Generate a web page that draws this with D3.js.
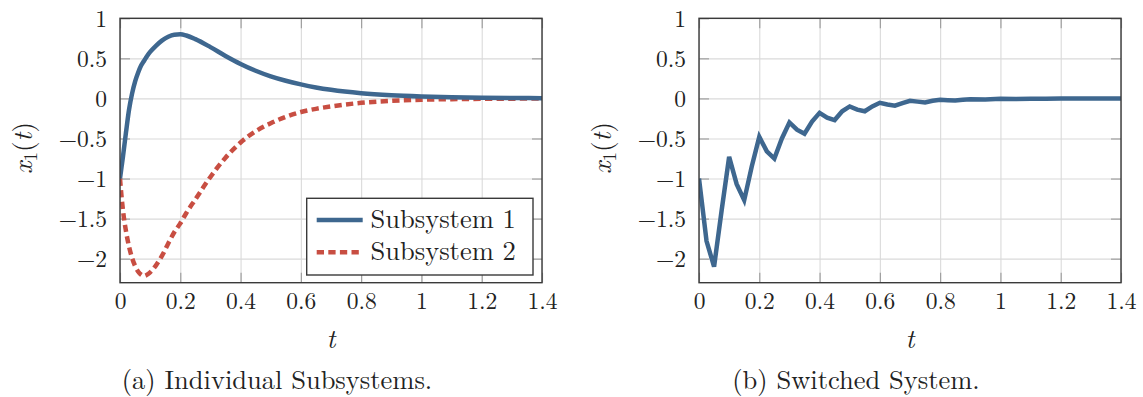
<!DOCTYPE html>
<html>
<head>
<meta charset="utf-8">
<script src="https://cdn.jsdelivr.net/npm/d3@7"></script>
<style>
  body { margin: 0; background: #fff; }
</style>
</head>
<body>
<script>
// time grid and the two individual subsystem responses
var tSub = [0, 0.005, 0.01, 0.02, 0.03, 0.04, 0.05, 0.06, 0.07, 0.08, 0.09, 0.1, 0.12, 0.14, 0.16, 0.18, 0.2, 0.22, 0.25,
            0.3, 0.35, 0.4, 0.45, 0.5, 0.55, 0.6, 0.65, 0.7, 0.8, 0.9, 1.0, 1.1, 1.2, 1.3, 1.4];
var sub1 = [-1, -0.86, -0.72, -0.42, -0.14, 0.06, 0.21, 0.32, 0.41, 0.47, 0.53, 0.58, 0.66, 0.725, 0.77, 0.795, 0.8, 0.785, 0.74,
            0.64, 0.53, 0.43, 0.345, 0.275, 0.22, 0.175, 0.137, 0.107, 0.065, 0.04, 0.025, 0.015, 0.009, 0.005, 0.003];
var sub2 = [-1, -1.22, -1.4, -1.66, -1.85, -1.99, -2.09, -2.16, -2.2, -2.215, -2.2, -2.17, -2.08, -1.96, -1.81, -1.67, -1.56, -1.43, -1.26,
            -0.98, -0.74, -0.55, -0.41, -0.31, -0.23, -0.17, -0.13, -0.1, -0.055, -0.03, -0.016, -0.009, -0.005, -0.003, -0.001];

// switched system response
var tSw = [0, 0.025, 0.05, 0.075, 0.1, 0.125, 0.15, 0.175, 0.2, 0.225, 0.25, 0.275, 0.3, 0.325, 0.35, 0.375, 0.4,
           0.425, 0.45, 0.475, 0.5, 0.525, 0.55, 0.575, 0.6, 0.625, 0.65, 0.675, 0.7, 0.725, 0.75, 0.775, 0.8,
           0.825, 0.85, 0.875, 0.9, 0.95, 1.0, 1.05, 1.1, 1.15, 1.2, 1.3, 1.4];
var sw = [-1.0, -1.78, -2.1, -1.4, -0.73, -1.07, -1.27, -0.85, -0.48, -0.66, -0.75, -0.5, -0.3, -0.39, -0.44, -0.29, -0.18,
          -0.24, -0.27, -0.16, -0.1, -0.14, -0.16, -0.1, -0.055, -0.075, -0.09, -0.06, -0.03, -0.04, -0.05, -0.03, -0.016,
          -0.022, -0.027, -0.017, -0.009, -0.014, -0.005, -0.008, -0.003, -0.004, -0.002, -0.001, 0];

var xTicks = [0, 0.2, 0.4, 0.6, 0.8, 1, 1.2, 1.4];
var xTickLabels = ["0", "0.2", "0.4", "0.6", "0.8", "1", "1.2", "1.4"];
var yTicks = [1, 0.5, 0, -0.5, -1, -1.5, -2];
var yTickLabels = ["1", "0.5", "0", "\u22120.5", "\u22121", "\u22121.5", "\u22122"];

var legendNames = ["Subsystem 1", "Subsystem 2"];
var captions = ["(a) Individual Subsystems.", "(b) Switched System."];

var blue = "#3e678f", red = "#c84e42";
var serif = "'Latin Modern Roman', 'Liberation Serif', serif";

var svg = d3.select("body").append("svg")
    .attr("width", 1143)
    .attr("height", 397);

var plotTop = 18.3, plotBottom = 282.7;

function makePanel(x0, x1, idx) {
  var x = d3.scaleLinear().domain([0, 1.4]).range([x0, x1]);
  var y = d3.scaleLinear().domain([-2.3, 1]).range([plotBottom, plotTop]);
  var h = plotBottom - plotTop, w = x1 - x0;
  var g = svg.append("g");

  // grid
  function gridStyle(s) {
    s.select(".domain").remove();
    s.selectAll("line").attr("stroke", "#dadada").attr("stroke-width", 1.1);
  }
  g.append("g")
      .attr("transform", "translate(0," + plotBottom + ")")
      .call(d3.axisBottom(x).tickValues(xTicks).tickSize(-h).tickFormat(""))
      .call(gridStyle);
  g.append("g")
      .attr("transform", "translate(" + x0 + ",0)")
      .call(d3.axisLeft(y).tickValues(yTicks).tickSize(-w).tickFormat(""))
      .call(gridStyle);

  // inward ticks, all four sides
  function tickStyle(s) {
    s.select(".domain").remove();
    s.selectAll("line").attr("stroke", "#9a9a9a").attr("stroke-width", 1.1);
  }
  var bx = g.append("g")
      .attr("transform", "translate(0," + plotBottom + ")")
      .call(d3.axisBottom(x).tickValues(xTicks).tickSize(-10).tickPadding(10)
        .tickFormat(function(d, i) { return xTickLabels[i]; }))
      .call(tickStyle);
  bx.selectAll("text")
      .style("font-family", serif).style("font-size", "23.5px")
      .attr("fill", "#222").attr("y", 26.5).attr("dy", null);
  g.append("g")
      .attr("transform", "translate(0," + plotTop + ")")
      .call(d3.axisTop(x).tickValues(xTicks).tickSize(-10).tickFormat(""))
      .call(tickStyle);
  var ly = g.append("g")
      .attr("transform", "translate(" + x0 + ",0)")
      .call(d3.axisLeft(y).tickValues(yTicks).tickSize(-10).tickPadding(13)
        .tickFormat(function(d, i) { return yTickLabels[i]; }))
      .call(tickStyle);
  ly.selectAll("text")
      .style("font-family", serif).style("font-size", "23.5px")
      .attr("fill", "#222").attr("dy", "0.33em");
  g.append("g")
      .attr("transform", "translate(" + x1 + ",0)")
      .call(d3.axisRight(y).tickValues(yTicks).tickSize(-10).tickFormat(""))
      .call(tickStyle);

  // clip
  g.append("clipPath").attr("id", "clip" + idx)
    .append("rect").attr("x", x0).attr("y", plotTop).attr("width", w).attr("height", h);

  // axis labels
  g.append("text")
      .attr("x", (x0 + x1) / 2).attr("y", 348)
      .attr("text-anchor", "middle")
      .attr("fill", "#222")
      .style("font-family", serif).style("font-size", "27px").style("font-style", "italic")
      .text("t");
  var yl = g.append("text")
      .attr("transform", "translate(" + (x0 - 88) + "," + 148 + ") rotate(-90)")
      .attr("text-anchor", "middle")
      .attr("fill", "#222")
      .style("font-family", serif).style("font-size", "27px");
  yl.append("tspan").style("font-style", "italic").text("x");
  yl.append("tspan").style("font-size", "19px").attr("dy", 5).text("1");
  yl.append("tspan").attr("dy", -5).text("(");
  yl.append("tspan").style("font-style", "italic").text("t");
  yl.append("tspan").text(")");

  return {g: g, x: x, y: y, clip: "url(#clip" + idx + ")"};
}

// panel (a)
var pa = makePanel(120, 542, 0);
var lineA = d3.line()
    .x(function(d, i) { return pa.x(tSub[i]); })
    .y(function(d) { return pa.y(d); })
    .curve(d3.curveMonotoneX);

pa.g.append("path")
    .datum(sub2)
    .attr("clip-path", pa.clip)
    .attr("fill", "none")
    .attr("stroke", red)
    .attr("stroke-width", 4.5)
    .attr("stroke-dasharray", "7.3,4.3")
    .attr("d", lineA);

pa.g.append("path")
    .datum(sub1)
    .attr("clip-path", pa.clip)
    .attr("fill", "none")
    .attr("stroke", blue)
    .attr("stroke-width", 4.5)
    .attr("d", lineA);

// frame
pa.g.append("rect")
    .attr("x", 120).attr("y", plotTop).attr("width", 422).attr("height", plotBottom - plotTop)
    .attr("fill", "none").attr("stroke", "#3a3a3a").attr("stroke-width", 1.4);

// legend
var leg = pa.g.append("g");
leg.append("rect")
    .attr("x", 306.7).attr("y", 198.3).attr("width", 226.3).attr("height", 76.7)
    .attr("fill", "#fff").attr("stroke", "#3a3a3a").attr("stroke-width", 1.4);
var legColors = [blue, red], legDash = [null, "7.3,4.3"], legY = [220, 252.3];
legendNames.forEach(function(name, i) {
  leg.append("line")
      .attr("x1", 316.7).attr("x2", 362.7)
      .attr("y1", legY[i]).attr("y2", legY[i])
      .attr("stroke", legColors[i]).attr("stroke-width", 4.5)
      .attr("stroke-dasharray", legDash[i]);
  leg.append("text")
      .attr("x", 370.5).attr("y", legY[i] + 7.5)
      .attr("fill", "#222")
      .style("font-family", serif).style("font-size", "26.5px")
      .text(name);
});

// panel (b)
var pb = makePanel(699, 1121, 1);
var lineB = d3.line()
    .x(function(d, i) { return pb.x(tSw[i]); })
    .y(function(d) { return pb.y(d); });

pb.g.append("path")
    .datum(sw)
    .attr("clip-path", pb.clip)
    .attr("fill", "none")
    .attr("stroke", blue)
    .attr("stroke-width", 4.5)
    .attr("d", lineB);

pb.g.append("rect")
    .attr("x", 699).attr("y", plotTop).attr("width", 422).attr("height", plotBottom - plotTop)
    .attr("fill", "none").attr("stroke", "#3a3a3a").attr("stroke-width", 1.4);

// captions
svg.append("text").attr("x", 277).attr("y", 389).attr("text-anchor", "middle")
    .attr("fill", "#222").style("font-family", serif).style("font-size", "26.5px")
    .text(captions[0]);
svg.append("text").attr("x", 856).attr("y", 389).attr("text-anchor", "middle")
    .attr("fill", "#222").style("font-family", serif).style("font-size", "26.5px")
    .text(captions[1]);
</script>
</body>
</html>
